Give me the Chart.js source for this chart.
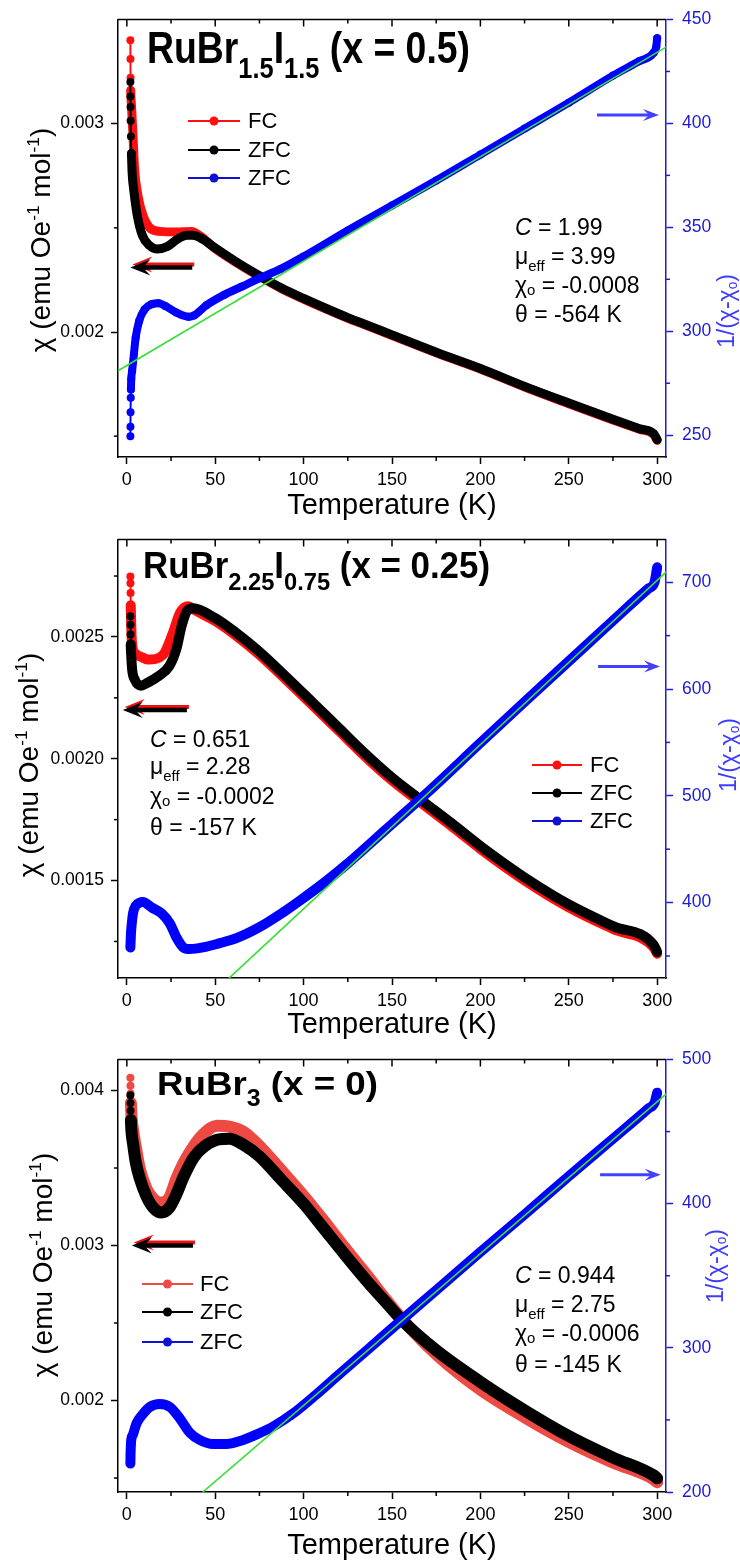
<!DOCTYPE html>
<html>
<head>
<meta charset="utf-8">
<script src="https://cdn.jsdelivr.net/npm/chart.js@4.4.1/dist/chart.umd.min.js"></script>
<style>
  html, body { margin: 0; padding: 0; background: #fff; }
  body { width: 740px; height: 1561px; position: relative; overflow: hidden; }
  .panel { position: absolute; left: 0; width: 740px; }
  canvas { display: block; }
</style>
</head>
<body>
<div class="panel" style="top:0;height:520px"><canvas id="p1" width="740" height="520"></canvas></div>
<div class="panel" style="top:520px;height:520px"><canvas id="p2" width="740" height="520"></canvas></div>
<div class="panel" style="top:1040px;height:521px"><canvas id="p3" width="740" height="521"></canvas></div>
<script>
const FONT = "'Liberation Sans', Arial, Helvetica, sans-serif";

// ---------- shared temperature axis ----------
const tempTicks = [0, 50, 100, 150, 200, 250, 300];
const tempTickLabels = ['0', '50', '100', '150', '200', '250', '300'];
const tempMinor = [25, 75, 125, 175, 225, 275];
const legendLabels = ['FC', 'ZFC', 'ZFC'];

// ---------- RuBr1.5I1.5 (x = 0.5) ----------
const p1T_fc = [2.0, 2.05, 2.1, 2.2, 2.6, 3.5, 4.4, 6.3, 9.1, 13, 18.6, 28, 36.6, 41.3, 50, 62, 75, 87.5, 100, 112.5, 125, 137.5, 150, 175, 200, 225, 250, 275, 290, 298, 300];
const p1Chi_fc = [0.00340, 0.00331, 0.00322, 0.00316, 0.00309, 0.00294, 0.00278, 0.002654, 0.00256, 0.0025, 0.002483, 0.00248, 0.002483, 0.002462, 0.0024, 0.002333, 0.002267, 0.002208, 0.002158, 0.002111, 0.002066, 0.002025, 0.001983, 0.0019, 0.001822, 0.001736, 0.001656, 0.001578, 0.001533, 0.001509, 0.00148];
const p1T_zfc = [2.0, 2.05, 2.1, 2.15, 2.3, 2.6, 3.0, 3.9, 5.9, 8.8, 12.6, 17.3, 22.9, 28.5, 34, 37.5, 43, 50, 62, 75, 87.5, 100, 112.5, 125, 137.5, 150, 175, 200, 225, 250, 275, 290, 298, 300];
const p1Chi_zfc = [0.0032, 0.00313, 0.00308, 0.003014, 0.002938, 0.002858, 0.002763, 0.002683, 0.00256, 0.002464, 0.002417, 0.002398, 0.00241, 0.002445, 0.002464, 0.002464, 0.002445, 0.002403, 0.002336, 0.00227, 0.002211, 0.002161, 0.002114, 0.002069, 0.002028, 0.001986, 0.001903, 0.001825, 0.001739, 0.001659, 0.001581, 0.001536, 0.001512, 0.001483];
const p1T_inv = [2.0, 2.05, 2.1, 2.2, 2.3, 2.5, 3, 4, 5, 7, 10, 14, 18, 22, 28, 35, 38, 45, 55, 65, 75, 87, 100, 125, 150, 175, 200, 225, 250, 275, 290, 298, 299.5, 300];
const p1Inv = [249.5, 254, 261, 268, 272, 277, 281, 289, 297, 305, 310.5, 313, 313.5, 312, 309, 307, 307.6, 312.5, 317.5, 321.5, 325.5, 330, 336, 348.5, 360.5, 372.5, 385, 397.5, 410, 423, 430, 434, 437, 441];
const p1T_fit = [-5, 305];
const p1Inv_fit = [281, 436.7];
const p1ChiTicks = [0.002, 0.003];
const p1ChiLabels = ['0.002', '0.003'];
const p1ChiMinor = [0.0015, 0.0025];
const p1InvTicks = [250, 300, 350, 400, 450];
const p1InvLabels = ['250', '300', '350', '400', '450'];
const p1InvMinor = [275, 325, 375, 425];
const p1Params = ['1.99', '3.99', '-0.0008', '-564 K'];

// ---------- RuBr2.25I0.75 (x = 0.25) ----------
const p2T_fc = [2.0, 2.05, 2.1, 2.2, 2.4, 2.7, 3.5, 5, 9, 12, 20.5, 26, 30, 34.7, 38, 50, 62, 75, 90, 105, 120, 135, 150, 167.5, 185, 200, 226, 250, 275, 298, 300];
const p2Chi_fc = [0.002748, 0.00272, 0.00268, 0.00263, 0.00257, 0.0025, 0.002447, 0.00243, 0.002415, 0.002407, 0.002427, 0.002516, 0.002598, 0.002626, 0.002612, 0.002565, 0.002504, 0.002427, 0.002325, 0.00222, 0.002114, 0.002008, 0.001911, 0.001813, 0.001716, 0.00163, 0.001496, 0.00139, 0.001301, 0.001226, 0.0012];
const p2T_zfc = [2.0, 2.05, 2.1, 2.2, 2.4, 3, 4.5, 8, 12, 18, 24, 28, 31, 34, 37.5, 50, 62, 75, 90, 105, 120, 135, 150, 167.5, 185, 200, 213, 226, 250, 275, 298, 300];
const p2Chi_zfc = [0.002585, 0.00255, 0.00251, 0.00247, 0.002435, 0.002366, 0.002325, 0.0023, 0.002313, 0.00234, 0.00238, 0.00245, 0.002545, 0.002606, 0.002618, 0.002577, 0.002516, 0.002439, 0.002337, 0.002232, 0.002126, 0.00202, 0.001923, 0.001825, 0.001728, 0.001642, 0.001573, 0.001508, 0.001402, 0.001313, 0.001236, 0.001207];
const p2T_inv = [2.0, 2.1, 2.3, 2.6, 3.5, 5, 7.4, 9, 14, 19.6, 24.3, 28, 32, 35.6, 43, 52.6, 62, 75, 88.5, 98, 113, 124.5, 137.5, 150, 170, 200, 225, 250, 275, 295, 298.5, 300];
const p2Inv = [358, 362, 370, 377, 390, 397, 400, 400.5, 395.5, 390, 380.6, 367.6, 358, 356.5, 358, 362, 366.7, 377, 391, 402, 420.5, 436, 455, 473.5, 503, 549.5, 588, 626, 664, 694, 700, 714];
const p2T_fit = [58, 305];
const p2Inv_fit = [329.5, 709.5];
const p2ChiTicks = [0.0015, 0.0020, 0.0025];
const p2ChiLabels = ['0.0015', '0.0020', '0.0025'];
const p2ChiMinor = [0.00125, 0.00175, 0.00225, 0.00275];
const p2InvTicks = [400, 500, 600, 700];
const p2InvLabels = ['400', '500', '600', '700'];
const p2InvMinor = [350, 450, 550, 650];
const p2Params = ['0.651', '2.28', '-0.0002', '-157 K'];

// ---------- RuBr3 (x = 0) ----------
const p3T_fc = [2.0, 2.05, 2.1, 2.3, 2.6, 3.5, 5, 7.4, 11.2, 15, 19.2, 23.6, 28, 32, 37.7, 43.4, 51, 58.6, 66, 75.4, 87, 100, 110, 123, 136, 146, 156, 175, 200, 225, 250, 275, 298, 300];
const p3Chi_fc = [0.004083, 0.00403, 0.00398, 0.00392, 0.00384, 0.003746, 0.00364, 0.003492, 0.003365, 0.003302, 0.003276, 0.0033, 0.00343, 0.00353, 0.00364, 0.00372, 0.003772, 0.003765, 0.003733, 0.003638, 0.00349, 0.003321, 0.003181, 0.00299, 0.002806, 0.00266, 0.002521, 0.002298, 0.00207, 0.001892, 0.001733, 0.0016, 0.001492, 0.001473];
const p3T_zfc = [2.0, 2.05, 2.1, 2.3, 2.6, 3.5, 5, 7.4, 11, 15, 19.5, 24, 28, 32, 38, 44, 52, 58, 66, 75, 87, 100, 110, 123, 136, 146, 156, 175, 200, 225, 250, 275, 298, 300];
const p3Chi_zfc = [0.00397, 0.00392, 0.00387, 0.00381, 0.00374, 0.003657, 0.00354, 0.00343, 0.00332, 0.003244, 0.003213, 0.003244, 0.00333, 0.00344, 0.00357, 0.00364, 0.003685, 0.003689, 0.00365, 0.003575, 0.003429, 0.00327, 0.00313, 0.002946, 0.002768, 0.002641, 0.002514, 0.002324, 0.00212, 0.001937, 0.001771, 0.001632, 0.001517, 0.001498];
const p3T_inv = [2.0, 2.1, 2.3, 2.6, 3.5, 5.5, 9.3, 13, 18.7, 24.3, 30, 35.7, 41.4, 48.9, 56.4, 64, 73.5, 83, 94, 107, 120, 136, 150, 175, 200, 225, 250, 275, 295, 298.5, 300];
const p3Inv = [219.7, 226, 233, 237, 240, 247.6, 254.4, 259, 261, 259, 251, 241, 236, 233.3, 233.3, 235.4, 240, 245.6, 254.4, 267.5, 281.5, 298.5, 313.5, 340, 366.5, 392.5, 419, 445, 466, 470, 477];
const p3T_fit = [43, 305];
const p3Inv_fit = [200, 476];
const p3ChiTicks = [0.002, 0.003, 0.004];
const p3ChiLabels = ['0.002', '0.003', '0.004'];
const p3ChiMinor = [0.0015, 0.0025, 0.0035];
const p3InvTicks = [200, 300, 400, 500];
const p3InvLabels = ['200', '300', '400', '500'];
const p3InvMinor = [250, 350, 450];
const p3Params = ['0.944', '2.75', '-0.0006', '-145 K'];

// ---------- text pieces ----------
const chiTitle = [{t: 'χ (emu Oe'}, {t: '-1', sup: 1}, {t: ' mol'}, {t: '-1', sup: 1}, {t: ')'}];
const invTitle = [{t: '1/(χ-χ'}, {t: 'o', sub: 1, drop: 0.12}, {t: ')'}];
const fitLines = v => [
  [{t: 'C', it: 1}, {t: ' = ' + v[0]}],
  [{t: 'μ'}, {t: 'eff', sub: 1}, {t: ' = ' + v[1]}],
  [{t: 'χ'}, {t: 'o', sub: 1, drop: 0.08}, {t: ' = ' + v[2]}],
  [{t: 'θ = ' + v[3]}]
];

const BLUE = '#0000ff';
const AXBLUE = '#1a1ad8';
const GREEN = '#33e033';

const panels = [
  {
    id: 'p1', padTop: 15, xH: 63, red: '#ff1010', bandChi: 9, bandInv: 8,
    thin: {fc: 2.6, zfc: 3.0, inv: 2.5},
    fc: [p1T_fc, p1Chi_fc], zfc: [p1T_zfc, p1Chi_zfc], inv: [p1T_inv, p1Inv], fit: [p1T_fit, p1Inv_fit],
    chi: {min: 0.0014, max: 0.0035, ticks: p1ChiTicks, labels: p1ChiLabels, minor: p1ChiMinor},
    rinv: {min: 239.5, max: 450, ticks: p1InvTicks, labels: p1InvLabels, minor: p1InvMinor},
    title: {segs: [{t: 'RuBr'}, {t: '1.5', sub: 1}, {t: 'I'}, {t: '1.5', sub: 1}, {t: ' (x = 0.5)'}], x: 147, y: 63, size: 44, width: 323},
    legend: {x0: 188, x1: 240, tx: 248, ys: [121, 150, 178]},
    params: {lines: fitLines(p1Params), x: 515, ys: [235, 264, 293, 322]},
    chiArrow: {from: 37, to: 2, v: 0.00231}, invArrow: {from: 266, to: 301, v: 404},
    leftTitle: {x: 50, y: 240}, rightTitle: {x: 734, y: 311}, xTitleY: 514
  },
  {
    id: 'p2', padTop: 16, xH: 62, red: '#ff1010', bandChi: 10, bandInv: 10,
    thin: {fc: 2.4, zfc: 2.4, inv: -1},
    fc: [p2T_fc, p2Chi_fc], zfc: [p2T_zfc, p2Chi_zfc], inv: [p2T_inv, p2Inv], fit: [p2T_fit, p2Inv_fit],
    chi: {min: 0.0011, max: 0.0029, ticks: p2ChiTicks, labels: p2ChiLabels, minor: p2ChiMinor},
    rinv: {min: 329.4, max: 740, ticks: p2InvTicks, labels: p2InvLabels, minor: p2InvMinor},
    title: {segs: [{t: 'RuBr'}, {t: '2.25', sub: 1}, {t: 'I'}, {t: '0.75', sub: 1}, {t: ' (x = 0.25)'}], x: 143, y: 58, size: 36, width: 347},
    legend: {x0: 532, x1: 582, tx: 590, ys: [245, 273, 301]},
    params: {lines: fitLines(p2Params), x: 150, ys: [227, 254, 284, 315]},
    chiArrow: {from: 34, to: -2.3, v: 0.0022}, invArrow: {from: 266.6, to: 301.6, v: 621},
    leftTitle: {x: 38, y: 245}, rightTitle: {x: 736, y: 235}, xTitleY: 513
  },
  {
    id: 'p3', padTop: 12, xH: 69, red: '#ee4a44', bandChi: 12, bandInv: 10,
    thin: {fc: 2.6, zfc: 2.6, inv: -1},
    fc: [p3T_fc, p3Chi_fc], zfc: [p3T_zfc, p3Chi_zfc], inv: [p3T_inv, p3Inv], fit: [p3T_fit, p3Inv_fit],
    chi: {min: 0.00141, max: 0.0042, ticks: p3ChiTicks, labels: p3ChiLabels, minor: p3ChiMinor},
    rinv: {min: 200, max: 500, ticks: p3InvTicks, labels: p3InvLabels, minor: p3InvMinor},
    title: {segs: [{t: 'RuBr'}, {t: '3', sub: 1}, {t: ' (x = 0)'}], x: 157, y: 55, size: 34, width: 221},
    legend: {x0: 142, x1: 193, tx: 200, ys: [244, 272, 302]},
    params: {lines: fitLines(p3Params), x: 515, ys: [243, 272, 301, 332]},
    chiArrow: {from: 37.4, to: 2.8, v: 0.003}, invArrow: {from: 267.7, to: 302, v: 420},
    leftTitle: {x: 52, y: 225}, rightTitle: {x: 723, y: 226}, xTitleY: 514
  }
];

// draw a run of text pieces with sub/superscripts
function drawRich(ctx, segs, x, y, o) {
  const base = o.size, sc = o.subScale || 0.62;
  const font = s => {
    const sz = (s.sub || s.sup) ? base * sc : base;
    return (s.it ? 'italic ' : '') + (o.bold ? 'bold ' : '') + sz + 'px ' + FONT;
  };
  let w = 0;
  for (const s of segs) { ctx.font = font(s); w += ctx.measureText(s.t).width; }
  const k = o.width ? o.width / w : 1;
  ctx.save();
  ctx.translate(x, y);
  if (o.rotate) ctx.rotate(o.rotate);
  ctx.scale(k, 1);
  ctx.fillStyle = o.color || '#000';
  ctx.textAlign = 'left';
  ctx.textBaseline = 'alphabetic';
  let cx = o.align === 'center' ? -w / 2 : 0;
  for (const s of segs) {
    ctx.font = font(s);
    const dy = s.sub ? base * (s.drop != null ? s.drop : (o.subDrop || 0.26)) : s.sup ? -base * 0.4 : 0;
    ctx.fillText(s.t, cx, dy);
    cx += ctx.measureText(s.t).width;
  }
  ctx.restore();
}

function tick(ctx, x, y, dx, dy) {
  ctx.beginPath(); ctx.moveTo(x, y); ctx.lineTo(x + dx, y + dy); ctx.stroke();
}

function arrow(ctx, x1, x2, y, color, w, hl, hw) {
  const d = Math.sign(x2 - x1);
  ctx.strokeStyle = color; ctx.fillStyle = color; ctx.lineWidth = w; ctx.lineCap = 'butt';
  ctx.beginPath(); ctx.moveTo(x1, y); ctx.lineTo(x2 - d * hl * 0.6, y); ctx.stroke();
  ctx.beginPath();
  ctx.moveTo(x2, y);
  ctx.lineTo(x2 - d * hl, y - hw);
  ctx.lineTo(x2 - d * hl * 0.62, y);
  ctx.lineTo(x2 - d * hl, y + hw);
  ctx.closePath(); ctx.fill();
}

function series(label, xs, ys, color, axis, width, thinBelow) {
  return {
    label, yAxisID: axis,
    data: xs.map((x, i) => ({x, y: ys[i]})),
    showLine: true, fill: false,
    borderColor: color, backgroundColor: color,
    borderWidth: width, borderJoinStyle: 'round', borderCapStyle: 'round',
    cubicInterpolationMode: 'monotone',
    pointRadius: label === 'fit' ? 0 : 4,
    pointBorderWidth: 0,
    segment: { borderWidth: c => (c.p1.parsed.x < thinBelow ? 2 : width) }
  };
}

function makeDecor(p) {
  return {
    id: 'decor',
    afterDraw(chart) {
      const ctx = chart.ctx, a = chart.chartArea;
      const xs = chart.scales.x, ys = chart.scales.chi, rs = chart.scales.inv;
      ctx.save();
      ctx.lineCap = 'butt';
      // top frame with inward ticks
      ctx.strokeStyle = '#000'; ctx.lineWidth = 1.5;
      ctx.beginPath(); ctx.moveTo(a.left, a.top); ctx.lineTo(a.right, a.top); ctx.stroke();
      tempTicks.forEach(v => tick(ctx, xs.getPixelForValue(v), a.top, 0, 7));
      tempMinor.forEach(v => tick(ctx, xs.getPixelForValue(v), a.top, 0, 4));
      // outward minor ticks
      tempMinor.forEach(v => tick(ctx, xs.getPixelForValue(v), a.bottom, 0, 4));
      p.chi.minor.forEach(v => tick(ctx, a.left, ys.getPixelForValue(v), -4, 0));
      ctx.strokeStyle = AXBLUE;
      p.rinv.minor.forEach(v => tick(ctx, a.right, rs.getPixelForValue(v), 4, 0));

      // axis titles
      drawRich(ctx, chiTitle, p.leftTitle.x, p.leftTitle.y, {size: 28, align: 'center', rotate: -Math.PI / 2, subScale: 0.62});
      drawRich(ctx, invTitle, p.rightTitle.x, p.rightTitle.y, {size: 23, align: 'center', rotate: -Math.PI / 2, color: '#3c3cff', subScale: 0.6});
      drawRich(ctx, [{t: 'Temperature (K)'}], (a.left + a.right) / 2, p.xTitleY, {size: 29, align: 'center'});

      // panel title
      drawRich(ctx, p.title.segs, p.title.x, p.title.y, {size: p.title.size, bold: true, width: p.title.width, subScale: 0.68, subDrop: 0.33});

      // legend
      const lg = p.legend, cols = [p.red, '#000', '#1010d0'];
      lg.ys.forEach((y, i) => {
        ctx.strokeStyle = cols[i]; ctx.fillStyle = cols[i]; ctx.lineWidth = 2;
        ctx.beginPath(); ctx.moveTo(lg.x0, y); ctx.lineTo(lg.x1, y); ctx.stroke();
        ctx.beginPath(); ctx.arc((lg.x0 + lg.x1) / 2, y, 4.5, 0, Math.PI * 2); ctx.fill();
        ctx.fillStyle = '#000'; ctx.font = '22px ' + FONT;
        ctx.textAlign = 'left'; ctx.textBaseline = 'middle';
        ctx.fillText(legendLabels[i], lg.tx, y + 1);
      });

      // Curie-Weiss parameters
      p.params.lines.forEach((segs, i) => {
        drawRich(ctx, segs, p.params.x, p.params.ys[i], {size: 23, subScale: 0.65, subDrop: 0.3});
      });

      // axis arrows
      const ca = p.chiArrow, ia = p.invArrow;
      const cy = ys.getPixelForValue(ca.v);
      arrow(ctx, xs.getPixelForValue(ca.from) + 2, xs.getPixelForValue(ca.to) + 2, cy - 3, '#ee1111', 4, 20, 8);
      arrow(ctx, xs.getPixelForValue(ca.from), xs.getPixelForValue(ca.to), cy, '#000', 4.5, 20, 8);
      arrow(ctx, xs.getPixelForValue(ia.from), xs.getPixelForValue(ia.to), rs.getPixelForValue(ia.v), '#4040ff', 3, 16, 6);
      ctx.restore();
    }
  };
}

function build(p) {
  const th = p.thin;
  const datasets = [
    series('fit', p.fit[0], p.fit[1], GREEN, 'inv', 1.6, -99),
    series('ZFC', p.inv[0], p.inv[1], BLUE, 'inv', p.bandInv, th.inv),
    series('ZFC', p.zfc[0], p.zfc[1], '#000', 'chi', p.bandChi, th.zfc),
    series('FC', p.fc[0], p.fc[1], p.red, 'chi', p.bandChi, th.fc)
  ];
  const tickFont = {family: FONT, size: 18};
  new Chart(document.getElementById(p.id), {
    type: 'scatter',
    data: {datasets},
    options: {
      responsive: false, animation: false, devicePixelRatio: 1, events: [],
      layout: {padding: {top: p.padTop, left: 0, right: 0, bottom: 0}},
      plugins: {legend: {display: false}, tooltip: {enabled: false}},
      scales: {
        x: {
          type: 'linear', position: 'bottom', min: -5, max: 305,
          afterBuildTicks: s => { s.ticks = tempTicks.map(v => ({value: v})); },
          afterFit: s => { s.height = p.xH; },
          ticks: {callback: (v, i) => tempTickLabels[i], font: tickFont, color: '#000', padding: 5, maxRotation: 0, autoSkip: false},
          grid: {drawOnChartArea: false, tickLength: 7, tickWidth: 1.5, tickColor: '#000'},
          border: {display: true, color: '#000', width: 1.5}
        },
        chi: {
          type: 'linear', position: 'left', min: p.chi.min, max: p.chi.max,
          afterBuildTicks: s => { s.ticks = p.chi.ticks.map(v => ({value: v})); },
          afterFit: s => { s.width = 118; },
          ticks: {callback: (v, i) => p.chi.labels[i], font: {family: FONT, size: 17.5}, color: '#000', padding: 7, autoSkip: false},
          grid: {drawOnChartArea: false, tickLength: 7, tickWidth: 1.5, tickColor: '#000'},
          border: {display: true, color: '#000', width: 1.5}
        },
        inv: {
          type: 'linear', position: 'right', min: p.rinv.min, max: p.rinv.max,
          afterBuildTicks: s => { s.ticks = p.rinv.ticks.map(v => ({value: v})); },
          afterFit: s => { s.width = 74; },
          ticks: {callback: (v, i) => p.rinv.labels[i], font: {family: FONT, size: 17.5}, color: AXBLUE, padding: 9, autoSkip: false},
          grid: {drawOnChartArea: false, tickLength: 7, tickWidth: 1.5, tickColor: AXBLUE},
          border: {display: true, color: AXBLUE, width: 1.5}
        }
      }
    },
    plugins: [makeDecor(p)]
  });
}

panels.forEach(build);
</script>
</body>
</html>
